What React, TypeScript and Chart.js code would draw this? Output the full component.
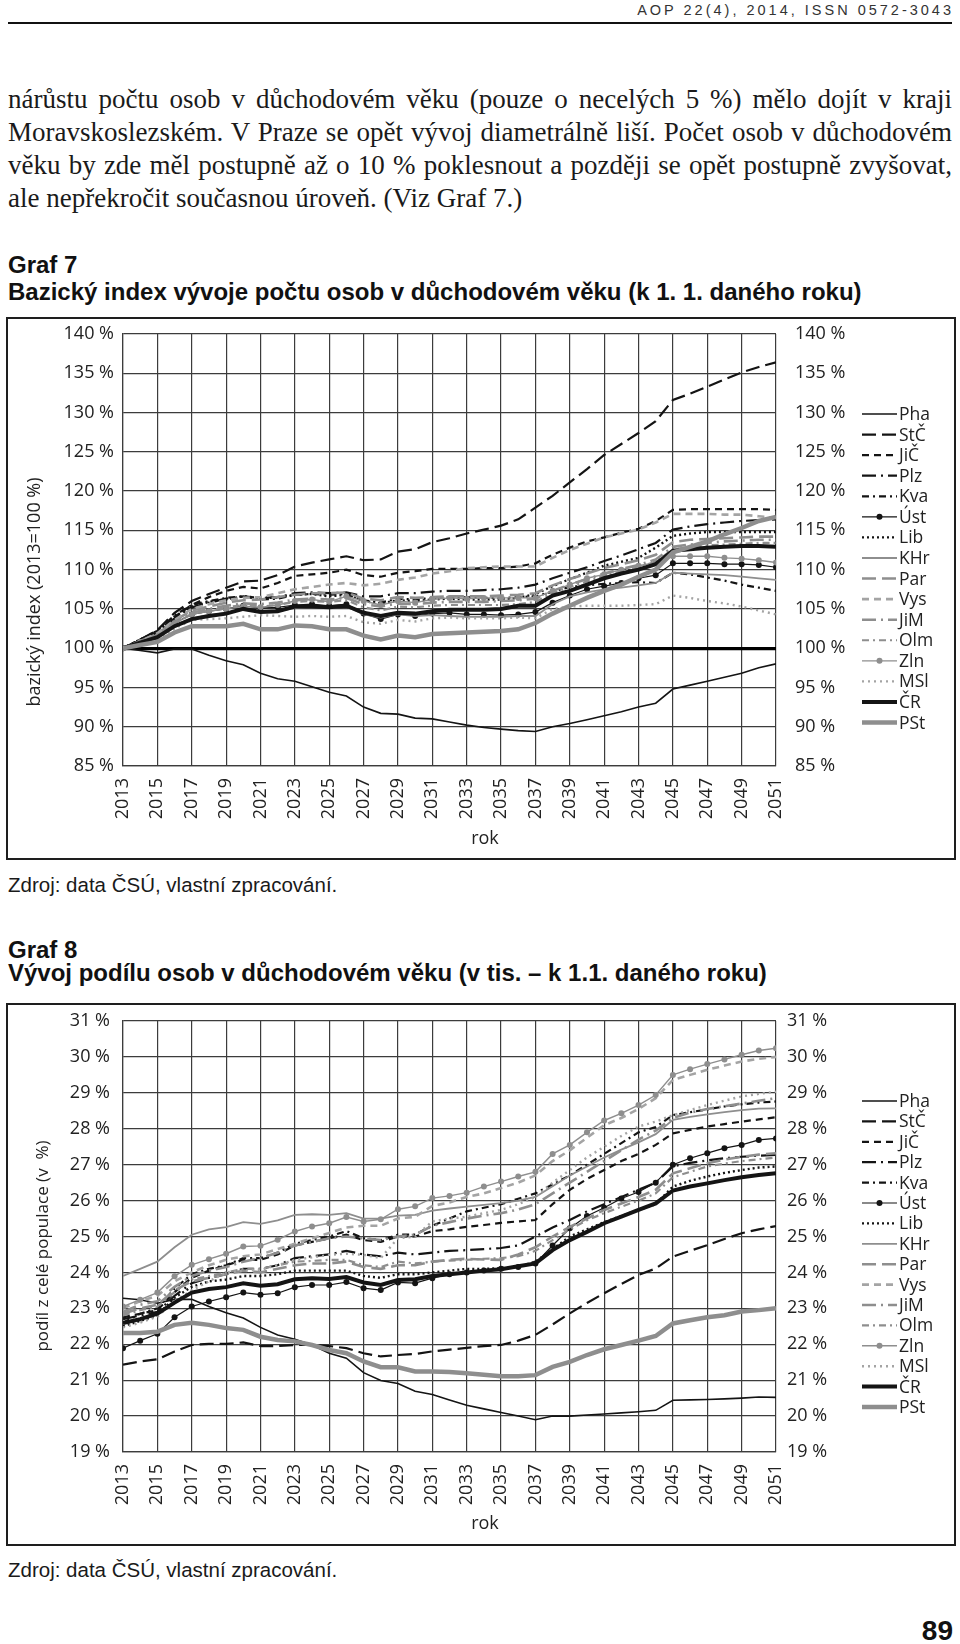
import React, { useEffect, useRef } from 'react';
import { Chart, registerables } from 'chart.js';

Chart.register(...registerables);

const YEARS = [2013, 2014, 2015, 2016, 2017, 2018, 2019, 2020, 2021, 2022, 2023, 2024, 2025, 2026, 2027, 2028, 2029, 2030, 2031, 2032, 2033, 2034, 2035, 2036, 2037, 2038, 2039, 2040, 2041, 2042, 2043, 2044, 2045, 2046, 2047, 2048, 2049, 2050, 2051];
const REGIONS = ['Pha', 'StČ', 'JiČ', 'Plz', 'Kva', 'Úst', 'Lib', 'KHr', 'Par', 'Vys', 'JiM', 'Olm', 'Zln', 'MSl', 'ČR', 'PSt'];

const IDX_TICKS = [85, 140, 5];
const SHR_TICKS = [19, 31, 1];

// Graf 7 – bazický index (2013 = 100 %)
const IDX_PHA = [100, 99.7, 99.4, 99.9, 99.9, 99.1, 98.4, 97.9, 96.8, 96.1, 95.8, 95.1, 94.4, 93.9, 92.5, 91.7, 91.6, 91.1, 91.0, 90.6, 90.2, 89.9, 89.7, 89.5, 89.4, 90.0, 90.4, 90.9, 91.4, 91.9, 92.5, 93.0, 94.8, 95.3, 95.8, 96.3, 96.8, 97.5, 98.0];
const IDX_STC = [100, 101.1, 102.3, 104.5, 106.0, 106.9, 107.7, 108.5, 108.6, 109.3, 110.4, 110.9, 111.3, 111.7, 111.2, 111.3, 112.3, 112.6, 113.5, 114.0, 114.6, 115.1, 115.6, 116.4, 117.9, 119.4, 121.1, 122.8, 124.6, 126.0, 127.4, 128.9, 131.6, 132.4, 133.3, 134.2, 135.1, 135.8, 136.4];
const IDX_JIC = [100, 101.0, 102.1, 104.0, 105.5, 106.5, 107.3, 107.8, 107.6, 108.3, 109.2, 109.4, 109.6, 110.0, 109.3, 109.1, 109.6, 109.8, 110.1, 110.1, 110.1, 110.2, 110.2, 110.4, 110.8, 111.9, 112.8, 113.6, 114.1, 114.7, 115.2, 116.2, 117.6, 117.7, 117.7, 117.7, 117.7, 117.7, 117.6];
const IDX_PLZ = [100, 101.0, 102.0, 103.8, 105.2, 105.8, 106.3, 106.6, 106.4, 106.5, 107.0, 107.1, 107.0, 107.1, 106.6, 106.6, 107.0, 107.0, 107.2, 107.3, 107.3, 107.4, 107.5, 107.7, 108.1, 108.9, 109.6, 110.3, 111.1, 111.8, 112.6, 113.4, 115.1, 115.5, 115.8, 116.0, 116.2, 116.3, 116.4];
const IDX_KVA = [100, 101.1, 102.2, 104.2, 105.5, 106.0, 106.4, 106.6, 106.2, 106.3, 106.8, 106.9, 106.8, 106.9, 106.1, 105.8, 106.3, 106.2, 106.4, 106.5, 106.5, 106.4, 106.4, 106.5, 106.6, 107.2, 107.8, 108.0, 108.2, 108.3, 108.4, 108.3, 109.6, 109.4, 109.0, 108.6, 108.1, 107.7, 107.3];
const IDX_UST = [100, 100.8, 101.5, 103.2, 104.3, 104.7, 105.0, 105.4, 105.1, 105.2, 105.5, 105.6, 105.4, 105.6, 104.4, 103.7, 104.3, 104.1, 104.4, 104.5, 104.3, 104.3, 104.2, 104.3, 104.6, 105.8, 106.7, 107.5, 107.9, 108.3, 108.9, 109.3, 110.8, 110.8, 110.8, 110.7, 110.7, 110.6, 110.3];
const IDX_LIB = [100, 101.1, 102.2, 104.0, 105.3, 105.9, 106.2, 106.6, 106.4, 106.4, 106.8, 106.9, 106.6, 106.8, 106.0, 105.7, 106.1, 106.0, 106.2, 106.3, 106.2, 106.2, 106.2, 106.4, 106.9, 107.9, 108.8, 109.6, 110.5, 111.0, 111.5, 112.8, 114.3, 114.6, 114.8, 114.8, 114.8, 114.8, 114.8];
const IDX_KHR = [100, 100.7, 101.3, 102.9, 103.8, 104.2, 104.5, 104.9, 104.6, 104.7, 105.1, 105.2, 105.1, 105.3, 104.3, 103.9, 104.3, 104.1, 104.2, 104.1, 104.0, 104.0, 104.0, 104.1, 104.1, 105.6, 106.6, 107.1, 107.5, 107.7, 108.0, 108.3, 109.6, 109.5, 109.4, 109.3, 109.1, 108.9, 108.7];
const IDX_PAR = [100, 100.9, 101.8, 103.5, 104.8, 105.3, 105.8, 106.1, 106.2, 106.5, 106.8, 107.0, 107.0, 107.1, 106.3, 106.1, 106.5, 106.4, 106.5, 106.6, 106.6, 106.6, 106.7, 106.8, 107.0, 108.0, 108.8, 109.5, 110.2, 110.7, 111.2, 111.9, 113.5, 113.8, 113.9, 114.0, 114.1, 114.2, 114.2];
const IDX_VYS = [100, 100.9, 101.9, 103.6, 105.0, 105.6, 106.1, 106.4, 106.5, 107.0, 107.5, 107.8, 108.1, 108.3, 108.0, 108.2, 108.7, 109.0, 109.5, 109.8, 110.2, 110.3, 110.4, 110.4, 110.4, 111.5, 112.5, 113.3, 114.1, 114.6, 115.1, 116.0, 117.1, 117.1, 117.1, 117.0, 117.0, 116.8, 116.6];
const IDX_JIM = [100, 100.8, 101.6, 103.3, 104.5, 105.0, 105.4, 105.7, 105.6, 105.8, 106.2, 106.3, 106.2, 106.4, 105.6, 105.3, 105.7, 105.6, 105.8, 105.9, 105.9, 105.9, 106.0, 106.1, 106.3, 107.3, 108.1, 108.8, 109.5, 110.1, 110.6, 111.3, 112.9, 113.2, 113.4, 113.6, 113.7, 113.8, 113.8];
const IDX_OLM = [100, 100.8, 101.6, 103.2, 104.3, 104.8, 105.2, 105.5, 105.3, 105.5, 105.9, 106.0, 105.9, 106.1, 105.2, 104.8, 105.3, 105.2, 105.4, 105.5, 105.5, 105.5, 105.5, 105.6, 105.9, 107.0, 107.8, 108.5, 109.2, 109.8, 110.3, 111.0, 112.6, 112.9, 113.1, 113.2, 113.3, 113.4, 113.4];
const IDX_ZLN = [100, 100.8, 101.5, 103.2, 104.3, 104.7, 105.0, 105.3, 105.2, 105.5, 106.0, 106.2, 105.9, 106.6, 106.0, 105.5, 106.0, 105.8, 106.2, 106.4, 106.3, 106.4, 106.4, 106.4, 106.4, 107.3, 108.1, 108.9, 109.4, 110.0, 110.5, 110.9, 111.7, 111.7, 111.7, 111.5, 111.4, 111.2, 110.9];
const IDX_MSL = [100, 100.5, 101.0, 102.5, 103.6, 103.7, 103.8, 104.0, 104.2, 104.1, 104.0, 104.1, 104.0, 104.1, 103.3, 103.1, 103.6, 103.4, 103.8, 103.9, 103.8, 103.8, 103.8, 103.9, 103.8, 105.0, 105.3, 105.4, 105.4, 105.4, 105.5, 105.6, 106.7, 106.4, 106.0, 105.7, 105.3, 104.8, 104.3];
const IDX_CR = [100, 100.7, 101.4, 102.8, 103.7, 104.1, 104.4, 105.0, 104.6, 104.7, 105.3, 105.3, 105.2, 105.4, 104.5, 104.1, 104.5, 104.4, 104.7, 104.9, 104.9, 104.9, 105.0, 105.4, 105.4, 106.7, 107.3, 108.1, 108.9, 109.5, 110.0, 110.7, 112.4, 112.6, 112.8, 112.9, 113.0, 113.0, 112.9];
const IDX_PST = [100, 100.4, 100.8, 102.0, 102.8, 102.8, 102.8, 103.1, 102.4, 102.4, 102.9, 102.8, 102.4, 102.4, 101.6, 101.1, 101.6, 101.4, 101.8, 101.9, 102.0, 102.1, 102.2, 102.4, 103.2, 104.4, 105.4, 106.4, 107.3, 108.1, 109.1, 110.0, 112.2, 112.9, 113.6, 114.5, 115.3, 116.2, 116.7];

// Graf 8 – podíl z celé populace (v %)
const SHR_PHA = [23.28, 23.24, 23.14, 23.25, 23.25, 23.05, 22.88, 22.73, 22.47, 22.26, 22.14, 21.98, 21.75, 21.61, 21.21, 20.99, 20.91, 20.69, 20.6, 20.45, 20.3, 20.2, 20.1, 20.0, 19.9, 20.0, 20.0, 20.03, 20.06, 20.09, 20.12, 20.16, 20.44, 20.45, 20.46, 20.48, 20.5, 20.53, 20.52];
const SHR_STC = [21.43, 21.52, 21.58, 21.8, 21.98, 22.01, 22.01, 22.05, 21.95, 21.95, 21.98, 21.98, 21.95, 21.89, 21.75, 21.66, 21.7, 21.73, 21.8, 21.85, 21.9, 21.95, 21.98, 22.1, 22.26, 22.55, 22.86, 23.15, 23.42, 23.68, 23.93, 24.11, 24.44, 24.6, 24.76, 24.93, 25.09, 25.2, 25.29];
const SHR_JIC = [22.75, 22.85, 22.95, 23.45, 23.85, 24.05, 24.2, 24.35, 24.35, 24.5, 24.75, 24.85, 24.95, 25.05, 24.9, 24.85, 25.0, 25.0, 25.15, 25.2, 25.27, 25.32, 25.38, 25.42, 25.46, 25.9, 26.3, 26.6, 26.85, 27.1, 27.3, 27.55, 27.87, 27.97, 28.06, 28.13, 28.2, 28.26, 28.32];
const SHR_PLZ = [22.7, 22.8, 22.9, 23.35, 23.7, 23.85, 23.95, 24.1, 24.1, 24.2, 24.4, 24.45, 24.5, 24.6, 24.5, 24.45, 24.55, 24.5, 24.55, 24.6, 24.62, 24.65, 24.68, 24.75, 25.0, 25.25, 25.46, 25.7, 25.9, 26.1, 26.3, 26.5, 26.95, 27.05, 27.12, 27.18, 27.22, 27.25, 27.27];
const SHR_KVA = [22.6, 22.85, 23.0, 23.55, 23.95, 24.1, 24.2, 24.4, 24.4, 24.55, 24.8, 24.9, 25.0, 25.15, 24.95, 24.9, 25.05, 25.05, 25.3, 25.5, 25.7, 25.8, 25.9, 26.05, 26.2, 26.45, 26.7, 27.0, 27.3, 27.6, 27.9, 28.05, 28.38, 28.46, 28.54, 28.62, 28.68, 28.73, 28.76];
const SHR_UST = [21.89, 22.1, 22.29, 22.75, 23.05, 23.19, 23.31, 23.44, 23.38, 23.42, 23.59, 23.65, 23.65, 23.73, 23.56, 23.51, 23.72, 23.7, 23.84, 23.95, 24.0, 24.05, 24.1, 24.15, 24.25, 24.75, 25.23, 25.57, 25.8, 26.06, 26.24, 26.5, 27.0, 27.18, 27.32, 27.46, 27.55, 27.69, 27.73];
const SHR_LIB = [22.5, 22.65, 22.8, 23.3, 23.6, 23.75, 23.8, 23.9, 23.9, 23.95, 24.05, 24.05, 24.05, 24.05, 23.9, 23.85, 23.95, 23.95, 24.0, 24.05, 24.1, 24.1, 24.12, 24.15, 24.3, 24.65, 25.0, 25.2, 25.4, 25.57, 25.74, 25.9, 26.39, 26.55, 26.67, 26.77, 26.85, 26.92, 26.95];
const SHR_KHR = [23.9, 24.1, 24.3, 24.7, 25.05, 25.2, 25.26, 25.4, 25.35, 25.45, 25.6, 25.62, 25.6, 25.65, 25.5, 25.5, 25.58, 25.6, 25.72, 25.78, 25.83, 25.88, 25.93, 26.0, 26.1, 26.4, 26.7, 26.95, 27.2, 27.42, 27.62, 27.85, 28.25, 28.33, 28.4, 28.46, 28.52, 28.56, 28.57];
const SHR_PAR = [22.85, 23.0, 23.1, 23.5, 23.75, 23.85, 23.95, 24.05, 24.0, 24.1, 24.2, 24.25, 24.25, 24.3, 24.15, 24.1, 24.2, 24.2, 24.3, 24.35, 24.38, 24.36, 24.35, 24.5, 24.7, 25.0, 25.27, 25.5, 25.74, 25.92, 26.1, 26.3, 26.76, 26.9, 27.04, 27.14, 27.22, 27.28, 27.32];
const SHR_VYS = [23.0, 23.2, 23.35, 23.75, 24.0, 24.2, 24.35, 24.45, 24.5, 24.65, 24.8, 24.95, 25.1, 25.25, 25.3, 25.3, 25.5, 25.55, 25.85, 25.95, 26.1, 26.2, 26.35, 26.5, 26.7, 27.1, 27.4, 27.75, 28.1, 28.3, 28.55, 28.85, 29.36, 29.5, 29.64, 29.76, 29.87, 29.95, 30.0];
const SHR_JIM = [22.9, 23.1, 23.2, 23.6, 23.9, 24.05, 24.15, 24.3, 24.4, 24.55, 24.75, 24.85, 24.95, 25.0, 24.95, 24.9, 25.0, 25.05, 25.3, 25.4, 25.5, 25.58, 25.65, 25.75, 25.9, 26.2, 26.5, 26.8, 27.1, 27.4, 27.7, 27.95, 28.3, 28.45, 28.55, 28.63, 28.7, 28.78, 28.85];
const SHR_OLM = [22.8, 22.95, 23.05, 23.45, 23.8, 23.9, 24.0, 24.1, 24.1, 24.2, 24.3, 24.32, 24.35, 24.35, 24.2, 24.15, 24.3, 24.25, 24.3, 24.33, 24.35, 24.38, 24.4, 24.45, 24.6, 24.9, 25.2, 25.45, 25.65, 25.83, 26.0, 26.2, 26.65, 26.8, 26.95, 27.03, 27.1, 27.15, 27.2];
const SHR_ZLN = [23.05, 23.24, 23.44, 23.89, 24.21, 24.37, 24.52, 24.72, 24.74, 24.91, 25.14, 25.28, 25.37, 25.54, 25.42, 25.48, 25.76, 25.84, 26.07, 26.13, 26.22, 26.39, 26.53, 26.67, 26.8, 27.3, 27.55, 27.9, 28.23, 28.43, 28.66, 28.94, 29.5, 29.66, 29.8, 29.93, 30.06, 30.18, 30.24];
const SHR_MSL = [22.47, 22.6, 22.77, 23.2, 23.5, 23.75, 24.0, 24.05, 24.07, 24.2, 24.35, 24.42, 24.49, 24.52, 24.49, 24.4, 24.95, 25.0, 25.42, 25.5, 25.55, 25.65, 25.74, 25.9, 26.1, 26.5, 26.85, 27.2, 27.5, 27.8, 28.06, 28.2, 28.38, 28.52, 28.66, 28.78, 28.9, 28.97, 29.03];
const SHR_CR = [22.59, 22.7, 22.85, 23.16, 23.44, 23.54, 23.59, 23.7, 23.63, 23.67, 23.81, 23.84, 23.82, 23.87, 23.72, 23.65, 23.79, 23.81, 23.9, 23.95, 24.0, 24.05, 24.09, 24.17, 24.25, 24.62, 24.9, 25.13, 25.37, 25.55, 25.74, 25.92, 26.28, 26.39, 26.48, 26.57, 26.65, 26.71, 26.76];
const SHR_PST = [22.31, 22.31, 22.35, 22.54, 22.6, 22.54, 22.45, 22.4, 22.21, 22.12, 22.08, 21.98, 21.84, 21.75, 21.52, 21.36, 21.36, 21.24, 21.24, 21.23, 21.19, 21.15, 21.11, 21.11, 21.14, 21.37, 21.51, 21.7, 21.86, 21.98, 22.1, 22.23, 22.58, 22.67, 22.75, 22.81, 22.91, 22.95, 23.0];

const IDX_SERIES = [IDX_PHA, IDX_STC, IDX_JIC, IDX_PLZ, IDX_KVA, IDX_UST, IDX_LIB, IDX_KHR, IDX_PAR, IDX_VYS, IDX_JIM, IDX_OLM, IDX_ZLN, IDX_MSL, IDX_CR, IDX_PST];
const SHR_SERIES = [SHR_PHA, SHR_STC, SHR_JIC, SHR_PLZ, SHR_KVA, SHR_UST, SHR_LIB, SHR_KHR, SHR_PAR, SHR_VYS, SHR_JIM, SHR_OLM, SHR_ZLN, SHR_MSL, SHR_CR, SHR_PST];

const BLACK = '#141414';
const GREY = '#8e8e8e';
const LGREY = '#a4a4a4';
const GRID = '#3c3c3c';
const TEXT = '#222222';
const FONT = "'Open Sans', 'Noto Sans', sans-serif";

const STYLES = [
  { c: BLACK, w: 1.6, d: [] as number[], p: 0 },
  { c: BLACK, w: 2.2, d: [14, 6], p: 0 },
  { c: BLACK, w: 2.2, d: [7, 5], p: 0 },
  { c: BLACK, w: 2.2, d: [14, 5, 2, 5], p: 0 },
  { c: BLACK, w: 2.2, d: [7, 4, 2, 4], p: 0 },
  { c: BLACK, w: 1.2, d: [], p: 3 },
  { c: BLACK, w: 2.4, d: [2, 3], p: 0 },
  { c: GREY, w: 1.8, d: [], p: 0 },
  { c: GREY, w: 2.6, d: [14, 6], p: 0 },
  { c: LGREY, w: 2.6, d: [7, 5], p: 0 },
  { c: GREY, w: 2.6, d: [14, 5, 2, 5], p: 0 },
  { c: GREY, w: 2.2, d: [7, 4, 2, 4], p: 0 },
  { c: GREY, w: 1.4, d: [], p: 3 },
  { c: LGREY, w: 2.4, d: [2, 4], p: 0 },
  { c: BLACK, w: 4, d: [], p: 0 },
  { c: GREY, w: 4.5, d: [], p: 0 },
];

const extrasPlugin = {
  id: 'pageExtras',
  afterDraw(chart: any, _args: any, opts: any) {
    const ctx = chart.ctx;
    ctx.save();
    ctx.fillStyle = TEXT;
    ctx.textBaseline = 'middle';
    // y title
    ctx.save();
    ctx.font = `${opts.ytSize}px ${FONT}`;
    ctx.translate(opts.ytX, opts.ytY);
    ctx.rotate(-Math.PI / 2);
    ctx.textAlign = 'center';
    ctx.fillText(opts.yTitle, 0, 0);
    ctx.restore();
    // x title
    ctx.font = `18px ${FONT}`;
    ctx.textAlign = 'center';
    ctx.fillText(opts.xTitle, opts.xtX, opts.xtY);
    // legend
    ctx.font = `17.5px ${FONT}`;
    const ds = chart.data.datasets;
    ds.forEach((d: any, i: number) => {
      const y = opts.lgY + i * opts.lgStep;
      const x0 = opts.lgX;
      const x1 = opts.lgX + 35;
      ctx.save();
      ctx.strokeStyle = d.borderColor;
      ctx.lineWidth = d.borderWidth;
      ctx.setLineDash(d.borderDash || []);
      ctx.beginPath();
      ctx.moveTo(x0, y);
      ctx.lineTo(x1, y);
      ctx.stroke();
      if (d.pointRadius > 0) {
        ctx.setLineDash([]);
        ctx.fillStyle = d.borderColor;
        ctx.beginPath();
        ctx.arc((x0 + x1) / 2, y, d.pointRadius, 0, Math.PI * 2);
        ctx.fill();
      }
      ctx.restore();
      ctx.textAlign = 'left';
      ctx.fillStyle = TEXT;
      ctx.fillText(d.label, x1 + 2, y + 1);
    });
    ctx.restore();
  },
};

const zeroPad = (s: any) => {
  s.paddingTop = 0;
  s.paddingBottom = 0;
  s.paddingLeft = 0;
  s.paddingRight = 0;
};

function makeConfig(series: number[][], ticks: number[], cfg: any) {
  const [min, max, step] = ticks;
  const datasets = series.map((s, i) => ({
    label: REGIONS[i],
    data: YEARS.map((x, k) => ({ x, y: s[k] })),
    borderColor: STYLES[i].c,
    backgroundColor: STYLES[i].c,
    borderWidth: STYLES[i].w,
    borderDash: STYLES[i].d,
    pointRadius: STYLES[i].p,
    pointBackgroundColor: STYLES[i].c,
    pointBorderWidth: 0,
    pointHoverRadius: 0,
    tension: 0,
    fill: false,
    order: series.length - i,
  }));
  const tickFont = { family: FONT, size: 18 };
  return {
    type: 'line' as const,
    data: { datasets },
    plugins: [extrasPlugin],
    options: {
      responsive: false,
      animation: false,
      events: [],
      layout: { padding: { top: cfg.top, left: 0, right: 0, bottom: 0 } },
      plugins: {
        legend: { display: false },
        tooltip: { enabled: false },
        title: { display: false },
        pageExtras: cfg.extras,
      },
      scales: {
        x: {
          type: 'linear',
          position: 'bottom',
          min: 2013,
          max: 2051,
          ticks: {
            stepSize: 2,
            autoSkip: false,
            minRotation: 90,
            maxRotation: 90,
            padding: 12,
            color: TEXT,
            font: tickFont,
            callback: (v: any) => String(v),
          },
          grid: { color: GRID, lineWidth: 1.2, drawTicks: false },
          border: { color: GRID, width: 1.2 },
          afterFit: (s: any) => {
            s.height = cfg.xh;
            zeroPad(s);
          },
        },
        y: {
          type: 'linear',
          position: 'left',
          min,
          max,
          ticks: {
            stepSize: step,
            padding: cfg.lpad,
            color: TEXT,
            font: tickFont,
            callback: (v: any) => `${v} %`,
          },
          grid: {
            color: (c: any) => (c.tick && c.tick.value === cfg.thick ? '#000' : GRID),
            lineWidth: (c: any) => (c.tick && c.tick.value === cfg.thick ? 3.2 : 1.2),
            drawTicks: false,
          },
          border: { color: GRID, width: 1.2 },
          afterFit: (s: any) => {
            s.width = 115;
            zeroPad(s);
          },
        },
        y2: {
          type: 'linear',
          position: 'right',
          min,
          max,
          ticks: {
            stepSize: step,
            padding: cfg.rpad,
            color: TEXT,
            font: tickFont,
            callback: (v: any) => `${v} %`,
          },
          grid: { drawOnChartArea: false, drawTicks: false },
          border: { display: false },
          afterFit: (s: any) => {
            s.width = 178;
            zeroPad(s);
          },
        },
      },
    },
  };
}

function ChartBox({ top, config }: { top: number; config: any }) {
  const ref = useRef<HTMLCanvasElement | null>(null);
  useEffect(() => {
    if (!ref.current) return;
    const chart = new Chart(ref.current, config);
    return () => chart.destroy();
  }, [config]);
  return (
    <div
      style={{
        position: 'absolute',
        left: 6,
        top,
        width: 950,
        height: 543,
        boxSizing: 'border-box',
        border: '2px solid #1e1e1e',
        background: '#fff',
      }}
    >
      <canvas ref={ref} width={946} height={539} style={{ display: 'block', width: 946, height: 539 }} />
    </div>
  );
}

const CONFIG1 = makeConfig(IDX_SERIES, IDX_TICKS, {
  top: 15,
  xh: 92,
  lpad: 9,
  rpad: 19,
  thick: 100,
  extras: {
    yTitle: 'bazický index (2013=100 %)',
    ytSize: 18,
    ytX: 27,
    ytY: 273,
    xTitle: 'rok',
    xtX: 477,
    xtY: 520,
    lgX: 854,
    lgY: 95,
    lgStep: 20.57,
  },
});

const CONFIG2 = makeConfig(SHR_SERIES, SHR_TICKS, {
  top: 16,
  xh: 92,
  lpad: 13,
  rpad: 11,
  thick: null,
  extras: {
    yTitle: 'podíl z celé populace (v  %)',
    ytSize: 17,
    ytX: 35,
    ytY: 241,
    xTitle: 'rok',
    xtX: 477,
    xtY: 519,
    lgX: 854,
    lgY: 96,
    lgStep: 20.4,
  },
});

const serif = "'Liberation Serif', 'DejaVu Serif', serif";
const sans = "'Liberation Sans', Arial, sans-serif";

const lineStyle = (top: number, last: boolean): React.CSSProperties => ({
  position: 'absolute',
  left: 8,
  top,
  width: 944,
  height: 33,
  lineHeight: '33px',
  fontFamily: serif,
  fontSize: 27,
  color: '#1a1a1a',
  textAlign: last ? 'left' : 'justify',
  textAlignLast: last ? 'left' : 'justify',
});

const titleStyle = (top: number): React.CSSProperties => ({
  position: 'absolute',
  left: 8,
  top,
  height: 28,
  lineHeight: '28px',
  fontFamily: sans,
  fontWeight: 'bold',
  fontSize: 24,
  color: '#111',
  whiteSpace: 'nowrap',
});

const srcStyle = (top: number): React.CSSProperties => ({
  position: 'absolute',
  left: 8,
  top,
  height: 24,
  lineHeight: '24px',
  fontFamily: sans,
  fontSize: 20.5,
  color: '#1a1a1a',
  whiteSpace: 'nowrap',
});

export default function App() {
  return (
    <div
      style={{
        position: 'absolute',
        left: 0,
        top: 0,
        width: 960,
        height: 1644,
        overflow: 'hidden',
        background: '#fff',
      }}
    >
      <div
        style={{
          position: 'absolute',
          right: 6,
          top: 1,
          lineHeight: '18px',
          fontFamily: sans,
          fontSize: 14.5,
          letterSpacing: 3,
          color: '#333',
          whiteSpace: 'nowrap',
        }}
      >
        AOP 22(4), 2014, ISSN 0572-3043
      </div>
      <div style={{ position: 'absolute', left: 8, top: 22, width: 944, height: 2, background: '#111' }} />

      <div style={lineStyle(83, false)}>nárůstu počtu osob v důchodovém věku (pouze o necelých 5 %) mělo dojít v kraji</div>
      <div style={lineStyle(116, false)}>Moravskoslezském. V Praze se opět vývoj diametrálně liší. Počet osob v důchodovém</div>
      <div style={lineStyle(149, false)}>věku by zde měl postupně až o 10 % poklesnout a později se opět postupně zvyšovat,</div>
      <div style={lineStyle(182, true)}>ale nepřekročit současnou úroveň. (Viz Graf 7.)</div>

      <div style={titleStyle(251)}>Graf 7</div>
      <div style={titleStyle(278)}>Bazický index vývoje počtu osob v důchodovém věku (k 1. 1. daného roku)</div>

      <ChartBox top={317} config={CONFIG1} />

      <div style={srcStyle(873)}>Zdroj: data ČSÚ, vlastní zpracování.</div>

      <div style={titleStyle(936)}>Graf 8</div>
      <div style={titleStyle(959)}>Vývoj podílu osob v důchodovém věku (v tis. – k 1.1. daného roku)</div>

      <ChartBox top={1003} config={CONFIG2} />

      <div style={srcStyle(1558)}>Zdroj: data ČSÚ, vlastní zpracování.</div>

      <div
        style={{
          position: 'absolute',
          right: 7,
          top: 1614,
          lineHeight: '34px',
          fontFamily: sans,
          fontWeight: 'bold',
          fontSize: 28,
          color: '#111',
        }}
      >
        89
      </div>
    </div>
  );
}
